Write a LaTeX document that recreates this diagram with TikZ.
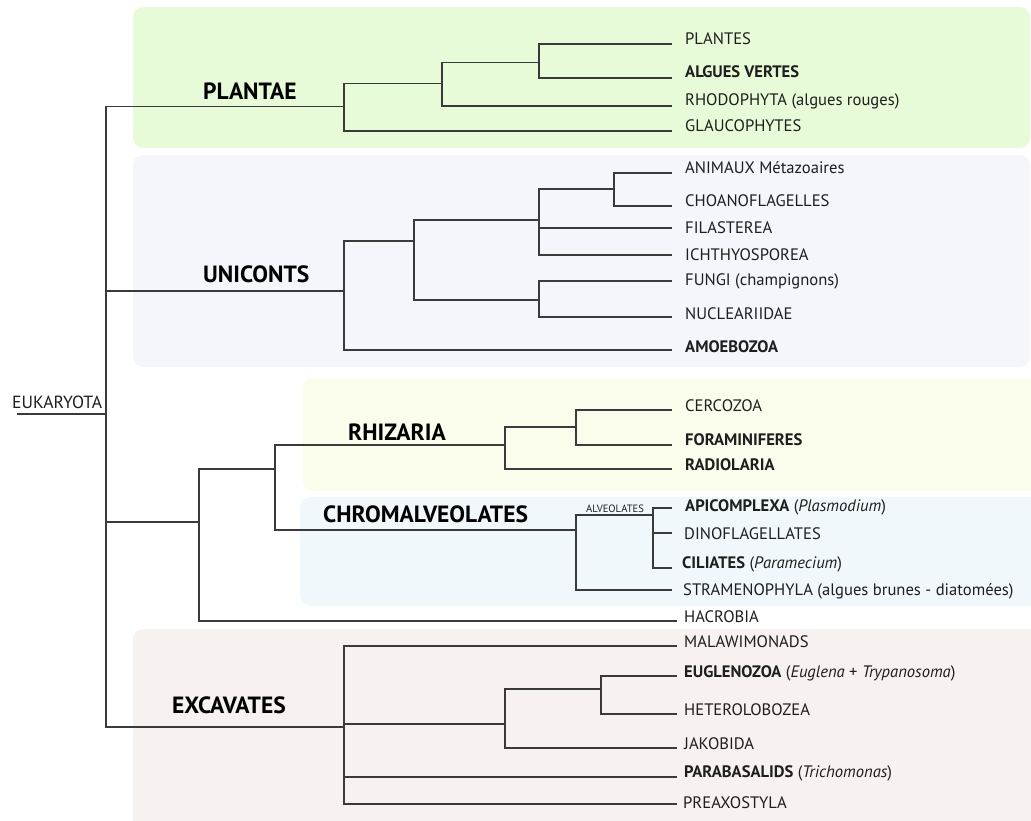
\documentclass[tikz,border=0pt]{standalone}
\usepackage{fontspec}
\setmainfont{PT Sans}
\definecolor{linecol}{HTML}{3A3A3A}
\definecolor{txtcol}{HTML}{1E1E1E}
\definecolor{plcol}{HTML}{E8FBD8}
\definecolor{uncol}{HTML}{F5F5FC}
\definecolor{rhcol}{HTML}{FAFDEB}
\definecolor{chcol}{HTML}{F1F8FB}
\definecolor{excol}{HTML}{F7F1EF}
\begin{document}
\begin{tikzpicture}[x=1pt,y=-1pt,
  br/.style={draw=linecol,line width=1.1pt},
  leaf/.style={anchor=base west,inner sep=0pt,font=\fontsize{16.6}{20}\selectfont,text=txtcol},
  grp/.style={anchor=base west,inner sep=0pt,font=\bfseries\fontsize{23.5}{26}\selectfont,text=black},
  small/.style={anchor=base west,inner sep=0pt,font=\fontsize{10.6}{12}\selectfont,text=txtcol},
  bg/.style={rounded corners=10pt}]
\useasboundingbox (0,0) rectangle (1031,821);
% backgrounds
\fill[plcol,bg] (133,7) rectangle (1030,148);
\fill[uncol,bg] (133,155) rectangle (1030,367);
\fill[rhcol,bg] (303,378) rectangle (1040,491);
\fill[chcol,bg] (300,497) rectangle (1040,606);
\fill[excol,bg] (133,629) rectangle (1040,830);
% internal nodes
\coordinate (r0) at (17,414);
\coordinate (E) at (106,414);
\coordinate (P) at (344,106.5);
\coordinate (P1) at (442,83.5);
\coordinate (P2) at (539,62.5);
\coordinate (U) at (344,291);
\coordinate (U1) at (414,241);
\coordinate (U2) at (539,220);
\coordinate (U3) at (539,300);
\coordinate (U4) at (614,189);
\coordinate (RC) at (199,522);
\coordinate (RC1) at (275,469);
\coordinate (R) at (505,445);
\coordinate (R1) at (576,427);
\coordinate (C) at (576,530);
\coordinate (A) at (653,515);
\coordinate (X) at (344,727);
\coordinate (X1) at (505,724);
\coordinate (X2) at (601,689);
% leaf ends
\coordinate (lplantes) at (672,44);
\coordinate (lalgues) at (672,78);
\coordinate (lrhodo) at (672,106);
\coordinate (lglauco) at (672,131);
\coordinate (lanim) at (672,173);
\coordinate (lchoano) at (672,206);
\coordinate (lfila) at (672,228);
\coordinate (lichth) at (672,255);
\coordinate (lfungi) at (672,281);
\coordinate (lnucl) at (672,317);
\coordinate (lamoeb) at (672,350);
\coordinate (lcerco) at (672,410);
\coordinate (lforam) at (672,445);
\coordinate (lradio) at (672,469);
\coordinate (lapic) at (672,508);
\coordinate (ldino) at (672,533);
\coordinate (lcili) at (672,568);
\coordinate (lstram) at (672,590);
\coordinate (lhacro) at (677,621);
\coordinate (lmala) at (677,646);
\coordinate (leugl) at (677,676);
\coordinate (lhete) at (677,714);
\coordinate (ljako) at (677,748);
\coordinate (lpara) at (677,777);
\coordinate (lprea) at (677,804);
% branches
\draw[br] (r0) -- (E);
\draw[br] (E) |- (P);
\draw[br] (E) |- (U);
\draw[br] (E) |- (RC);
\draw[br] (E) |- (X);
\draw[br] (P) |- (P1);
\draw[br] (P) |- (lglauco);
\draw[br] (P1) |- (P2);
\draw[br] (P1) |- (lrhodo);
\draw[br] (P2) |- (lplantes);
\draw[br] (P2) |- (lalgues);
\draw[br] (U) |- (U1);
\draw[br] (U) |- (lamoeb);
\draw[br] (U1) |- (U2);
\draw[br] (U1) |- (U3);
\draw[br] (U2) |- (U4);
\draw[br] (U2) |- (lfila);
\draw[br] (U2) |- (lichth);
\draw[br] (U4) |- (lanim);
\draw[br] (U4) |- (lchoano);
\draw[br] (U3) |- (lfungi);
\draw[br] (U3) |- (lnucl);
\draw[br] (RC) |- (RC1);
\draw[br] (RC) |- (lhacro);
\draw[br] (RC1) |- (R);
\draw[br] (RC1) |- (C);
\draw[br] (R) |- (R1);
\draw[br] (R) |- (lradio);
\draw[br] (R1) |- (lcerco);
\draw[br] (R1) |- (lforam);
\draw[br] (C) |- (A);
\draw[br] (C) |- (lstram);
\draw[br] (A) |- (lapic);
\draw[br] (A) |- (ldino);
\draw[br] (A) |- (lcili);
\draw[br] (X) |- (lmala);
\draw[br] (X) |- (X1);
\draw[br] (X) |- (lpara);
\draw[br] (X) |- (lprea);
\draw[br] (X1) |- (X2);
\draw[br] (X1) |- (ljako);
\draw[br] (X2) |- (leugl);
\draw[br] (X2) |- (lhete);
% group labels
\node[leaf,font=\fontsize{17.6}{20}\selectfont] (teuk) at (12,408) {EUKARYOTA};
\node[grp] (tpl) at (203,100) {PLANTAE};
\node[grp] (tun) at (203,282) {UNICONTS};
\node[grp] (trh) at (348,440) {RHIZARIA};
\node[grp] (tch) at (323,522) {CHROMALVEOLATES};
\node[grp] (tex) at (172,713) {EXCAVATES};
\node[small] (talv) at (586,512) {ALVEOLATES};
% leaf labels
\node[leaf] (nplantes) at (685,45) {PLANTES};
\node[leaf] (nalgues) at (685,78) {\bfseries ALGUES VERTES};
\node[leaf] (nrhodo) at (685,106) {RHODOPHYTA (algues rouges)};
\node[leaf] (nglauco) at (685,132) {GLAUCOPHYTES};
\node[leaf] (nanim) at (685,174) {ANIMAUX Métazoaires};
\node[leaf] (nchoano) at (685,207) {CHOANOFLAGELLES};
\node[leaf] (nfila) at (685,234) {FILASTEREA};
\node[leaf] (nichth) at (685,261) {ICHTHYOSPOREA};
\node[leaf] (nfungi) at (685,286) {FUNGI (champignons)};
\node[leaf] (nnucl) at (685,319) {NUCLEARIIDAE};
\node[leaf] (namoeb) at (685,352) {\bfseries AMOEBOZOA};
\node[leaf] (ncerco) at (685,411) {CERCOZOA};
\node[leaf] (nforam) at (685,445) {\bfseries FORAMINIFERES};
\node[leaf] (nradio) at (685,470) {\bfseries RADIOLARIA};
\node[leaf] (napic) at (685,511) {\textbf{APICOMPLEXA} (\textit{Plasmodium})};
\node[leaf] (ndino) at (684,539) {DINOFLAGELLATES};
\node[leaf] (ncili) at (682,568) {\textbf{CILIATES} (\textit{Paramecium})};
\node[leaf] (nstram) at (683,595) {STRAMENOPHYLA (algues brunes - diatomées)};
\node[leaf] (nhacro) at (684,622) {HACROBIA};
\node[leaf] (nmala) at (684,647) {MALAWIMONADS};
\node[leaf] (neugl) at (684,677) {\textbf{EUGLENOZOA} (\textit{Euglena} + \textit{Trypanosoma})};
\node[leaf] (nhete) at (684,715) {HETEROLOBOZEA};
\node[leaf] (njako) at (684,749) {JAKOBIDA};
\node[leaf] (npara) at (684,777) {\textbf{PARABASALIDS} (\textit{Trichomonas})};
\node[leaf] (nprea) at (683,808) {PREAXOSTYLA};
\end{tikzpicture}
\end{document}
